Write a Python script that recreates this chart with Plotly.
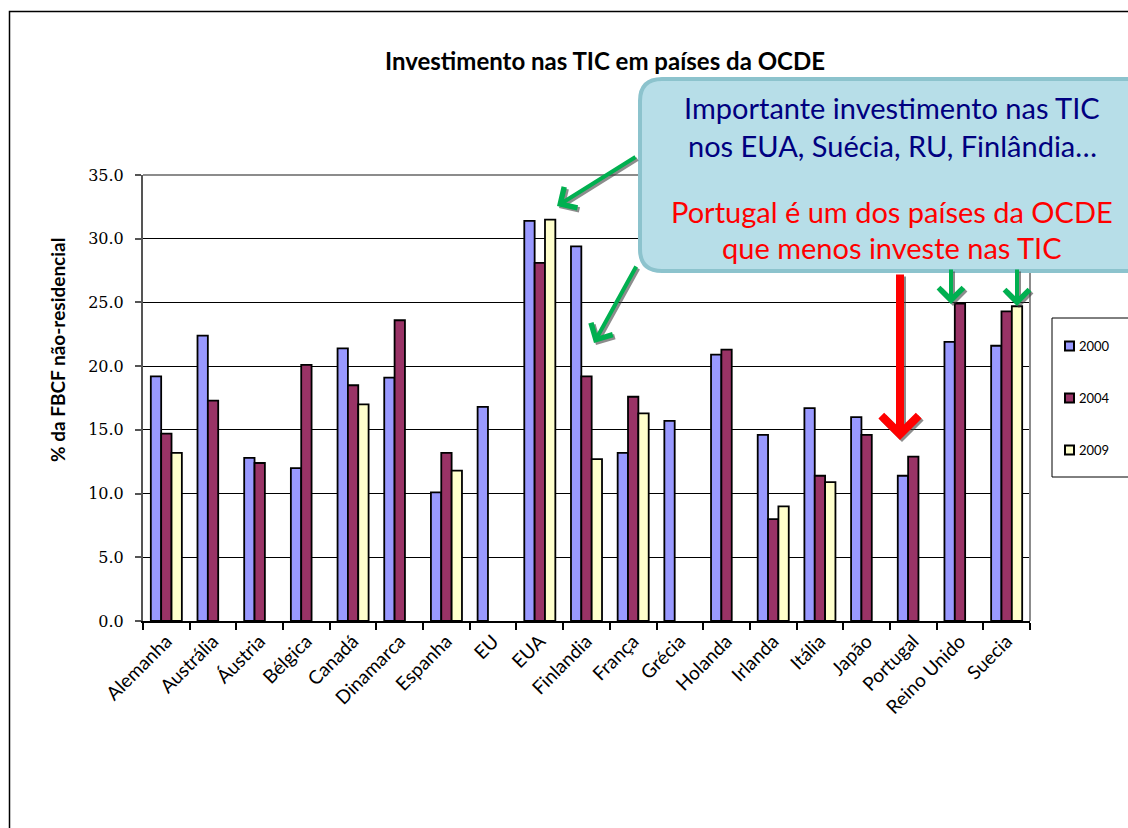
import plotly.graph_objects as go

# dados (% da FBCF não-residencial)
paises = ['Alemanha', 'Austrália', 'Áustria', 'Bélgica', 'Canadá', 'Dinamarca',
          'Espanha', 'EU', 'EUA', 'Finlandia', 'França', 'Grécia', 'Holanda',
          'Irlanda', 'Itália', 'Japão', 'Portugal', 'Reino Unido', 'Suecia']
anos = ['2000', '2004', '2009']
v2000 = [19.2, 22.4, 12.8, 12.0, 21.4, 19.1, 10.1, 16.8, 31.4, 29.4,
         13.2, 15.7, 20.9, 14.6, 16.7, 16.0, 11.4, 21.9, 21.6]
v2004 = [14.7, 17.3, 12.4, 20.1, 18.5, 23.6, 13.2, None, 28.1, 19.2,
         17.6, None, 21.3, 8.0, 11.4, 14.6, 12.9, 24.9, 24.3]
v2009 = [13.2, None, None, None, 17.0, None, 11.8, None, 31.5, 12.7,
         16.3, None, None, 9.0, 10.9, None, None, None, 24.7]
cores = ['#9999FF', '#993366', '#FFFFCC']

W, H = 1128, 828
L, R, T, B = 143, 1030, 175, 621


def px(x):
    return (x - L) / (R - L)


def py(y):
    return (B - y) / (B - T)


fig = go.Figure()
for nome, vals, cor in zip(anos, [v2000, v2004, v2009], cores):
    fig.add_trace(go.Bar(
        name=nome, x=paises, y=vals,
        marker=dict(color=cor, line=dict(color='black', width=1.8)),
        showlegend=False))

shapes = []
# moldura exterior
shapes.append(dict(type='rect', xref='paper', yref='paper',
                   x0=px(9.5), y0=py(11.5), x1=px(1160), y1=py(860),
                   line=dict(color='black', width=1.5)))
# contorno da área do gráfico (topo e direita, cinzento)
shapes.append(dict(type='path', xref='paper', yref='paper',
                   path='M0,1 L1,1 L1,0',
                   line=dict(color='#8c8c8c', width=2)))

# legenda desenhada à mão
shapes.append(dict(type='rect', xref='paper', yref='paper',
                   x0=px(1052), y0=py(318), x1=px(1160), y1=py(477),
                   line=dict(color='black', width=1), fillcolor='white'))
anotacoes = []
for i, (nome, cor) in enumerate(zip(anos, cores)):
    yc = 346 + 52 * i
    shapes.append(dict(type='rect', xref='paper', yref='paper',
                       x0=px(1065), y0=py(yc - 4.5), x1=px(1074), y1=py(yc + 4.5),
                       fillcolor=cor, line=dict(color='black', width=2)))
    anotacoes.append(dict(text=nome, xref='paper', yref='paper',
                          x=px(1077), y=py(yc), xanchor='left', yanchor='middle',
                          showarrow=False,
                          font=dict(family='Lato', size=13, color='black')))

# caixa do comentário com cantos arredondados
x0, x1, y0, y1, r = 640, 1160, 79, 271, 22
rx, ry = r / (R - L), r / (B - T)
X0, X1, Y0, Y1 = px(x0), px(x1), py(y0), py(y1)
caminho = (f'M{X0 + rx},{Y0} L{X1 - rx},{Y0} Q{X1},{Y0} {X1},{Y0 - ry} '
           f'L{X1},{Y1 + ry} Q{X1},{Y1} {X1 - rx},{Y1} L{X0 + rx},{Y1} '
           f'Q{X0},{Y1} {X0},{Y1 + ry} L{X0},{Y0 - ry} Q{X0},{Y0} {X0 + rx},{Y0} Z')
shapes.append(dict(type='path', xref='paper', yref='paper', path=caminho,
                   fillcolor='#B7DEE8', line=dict(color='#8CC3CD', width=4)))

linhas = [('Importante investimento nas TIC', 107, '#000080'),
          ('nos EUA, Suécia, RU, Finlândia…', 146, '#000080'),
          ('Portugal é um dos países da OCDE', 211, '#FF0000'),
          ('que menos investe nas TIC', 247, '#FF0000')]
for txt, yy, cor in linhas:
    anotacoes.append(dict(text=txt, xref='paper', yref='paper',
                          x=px(892), y=py(yy), xanchor='center', yanchor='middle',
                          showarrow=False,
                          font=dict(family='Lato', size=29, color=cor)))

# setas
setas = [((557, 206), (637, 156), '#00B050', 4, 1.2),
         ((594, 343), (637, 265), '#00B050', 4, 1.2),
         ((951, 304), (951, 268), '#00B050', 4, 1.2),
         ((1017, 306), (1017, 268), '#00B050', 4, 1.2),
         ((900, 440), (900, 273), '#FF0000', 8, 0.9)]
for (tx, ty), (sx, sy), cor, lw, tam in setas:
    for dx, c, op in [(2, '#404040', 0.6), (0, cor, 1.0)]:
        anotacoes.append(dict(text='', xref='paper', yref='paper',
                              x=px(tx + dx), y=py(ty + dx),
                              ax=sx - tx, ay=sy - ty,
                              showarrow=True, arrowhead=4, arrowsize=tam,
                              arrowwidth=lw, arrowcolor=c, opacity=op))

# título do eixo y
anotacoes.append(dict(text='% da FBCF não-residencial', xref='paper', yref='paper',
                      x=px(57), y=py(350), textangle=-90, showarrow=False,
                      xanchor='center', yanchor='middle',
                      font=dict(family='Lato', size=19, color='black', weight='bold')))

fig.update_layout(
    width=W, height=H,
    margin=dict(l=L, r=W - R, t=T, b=H - B, autoexpand=False),
    paper_bgcolor='white', plot_bgcolor='white',
    barmode='group', bargap=0.335, bargroupgap=0,
    title=dict(text='<b>Investimento nas TIC em países da OCDE</b>',
               x=605 / W, xanchor='center', y=1 - 62 / H, yanchor='middle',
               font=dict(family='Lato', size=24, color='black')),
    xaxis=dict(type='category', showline=True, linecolor='black', linewidth=1.5,
               ticks='outside', tickson='boundaries', ticklen=7, tickcolor='black',
               tickwidth=1.5, tickangle=-45, showgrid=False,
               tickfont=dict(family='Lato', size=19, color='black')),
    yaxis=dict(range=[0, 35], dtick=5, tick0=0, tickformat='.1f',
               showgrid=True, gridcolor='black', gridwidth=1, zeroline=False,
               showline=True, linecolor='#555555', linewidth=2,
               ticks='outside', ticklen=6, tickcolor='#555555', tickwidth=1.5,
               ticklabelstandoff=8,
               tickfont=dict(family='DejaVu Serif', size=16, color='black')),
    shapes=shapes,
    annotations=anotacoes,
)

fig.write_html('out.html', config={'displayModeBar': False},
               post_script="document.body.style.margin='0';")
